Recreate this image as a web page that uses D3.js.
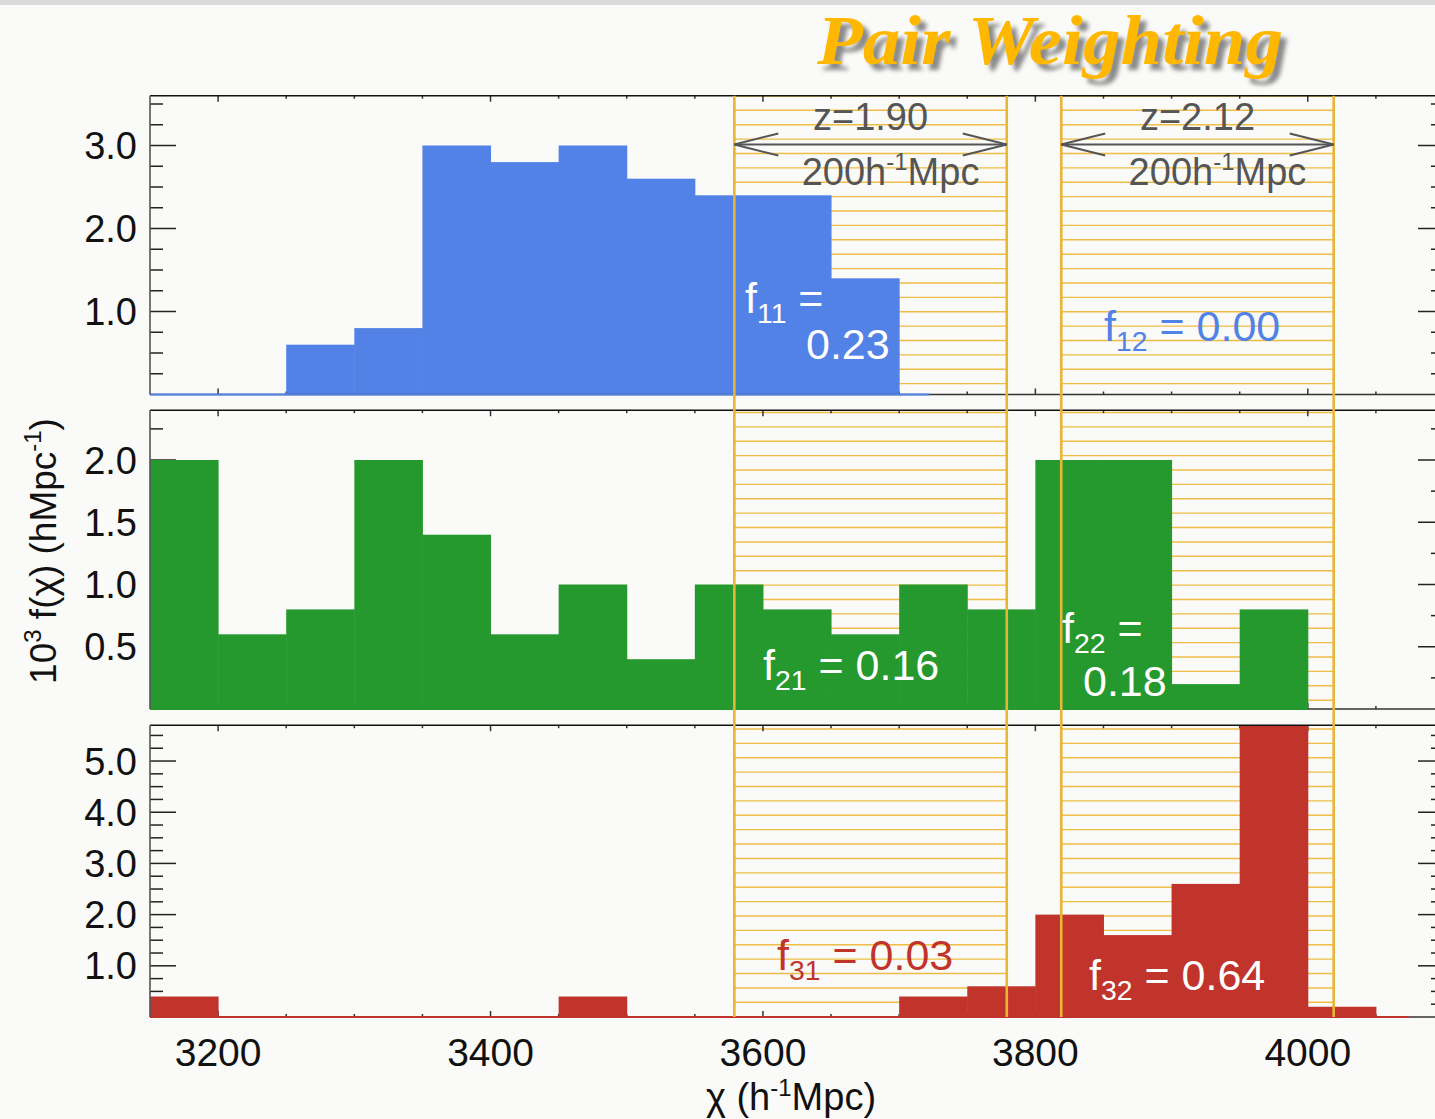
<!DOCTYPE html>
<html lang="en">
<head>
<meta charset="UTF-8">
<title>Pair Weighting</title>
<script src="https://d3js.org/d3.v7.min.js"></script>
<style>
  body { margin: 0; background: #fafaf8; }
  svg { display: block; }
</style>
</head>
<body>
<svg width="1435" height="1119" font-family="'Liberation Sans', Arial, sans-serif"></svg>
<script>
// ---- data ----
const binStart = 3150, binWidth = 50;
const blueVals  = [0, 0, 0.6, 0.8, 3.0, 2.8, 3.0, 2.6, 2.4, 2.4, 1.4];
const greenVals = [2.0, 0.6, 0.8, 2.0, 1.4, 0.6, 1.0, 0.4, 1.0, 0.8, 0.6, 1.0, 0.8, 2.0, 2.0, 0.2, 0.8];
const redVals   = [0.4, 0, 0, 0, 0, 0, 0.4, 0, 0, 0, 0, 0.4, 0.6, 2.0, 1.6, 2.6, 5.8, 0.2];
const windows   = [[3579, 3779], [3819, 4019]];
const windowZ   = ["z=1.90", "z=2.12"];
const xTickLabels = [3200, 3400, 3600, 3800, 4000];

const svg = d3.select("svg");
const W = 1435, H = 1119;

svg.append("rect").attr("width", W).attr("height", H).attr("fill", "#fafaf8");
svg.append("rect").attr("width", W).attr("height", 5).attr("fill", "#d9d9d9");

const x = d3.scaleLinear().domain([3150, 4100]).range([150, 1444]);

const panels = [
  { vals: blueVals,  color: "#5282e6", y: d3.scaleLinear().domain([0, 3.6]).range([394.5, 95.7]),
    major: [1, 2, 3], minorStep: 0.25, base: [3150, 3722] },
  { vals: greenVals, color: "#25992e", y: d3.scaleLinear().domain([0, 2.4]).range([709, 410.2]),
    major: [0.5, 1, 1.5, 2], minorStep: 0.25, base: [3150, 4000] },
  { vals: redVals,   color: "#c0342b", y: d3.scaleLinear().domain([0, 5.7]).range([1017, 725.2]),
    major: [1, 2, 3, 4, 5], minorStep: 0.25, base: [3150, 4074] }
];
const fmt = d3.format(".1f");

const hatchStep = 14.387, hatchRef = 1016.7;

panels.forEach((p, pi) => {
  const g = svg.append("g");
  const [bot, top] = p.y.range();
  const clipId = "clip" + pi;
  svg.append("clipPath").attr("id", clipId)
    .append("rect").attr("x", 150).attr("y", top).attr("width", 1294).attr("height", bot - top);

  // hatch lines inside the two windows
  const hy = [];
  for (let k = 0; hatchRef - k * hatchStep > top; k++) {
    const yy = hatchRef - k * hatchStep;
    if (yy <= bot + 0.5) hy.push(yy);
  }
  windows.forEach(w => {
    g.selectAll(null).data(hy).enter().append("line")
      .attr("x1", x(w[0])).attr("x2", x(w[1]))
      .attr("y1", d => d).attr("y2", d => d)
      .attr("stroke", "#efbd45").attr("stroke-width", 1.4);
  });

  // y ticks, left and right
  const minors = d3.range(p.minorStep, p.y.domain()[1] + 1e-6, p.minorStep);
  minors.forEach(v => {
    const isMajor = p.major.some(m => Math.abs(m - v) < 1e-6);
    const len = isMajor ? 26 : 13;
    g.append("line").attr("x1", 150).attr("x2", 150 + len)
      .attr("y1", p.y(v)).attr("y2", p.y(v)).attr("stroke", "#222").attr("stroke-width", 1.5);
    g.append("line").attr("x1", 1444 - len).attr("x2", 1444)
      .attr("y1", p.y(v)).attr("y2", p.y(v)).attr("stroke", "#222").attr("stroke-width", 1.5);
  });
  g.selectAll(null).data(p.major).enter().append("text")
    .attr("x", 137).attr("y", d => p.y(d)).attr("dy", "0.36em")
    .attr("text-anchor", "end").attr("font-size", 38).attr("fill", "#111")
    .text(d => fmt(d));

  // x ticks top and bottom
  d3.range(3200, 4100, 50).forEach(v => {
    const len = (v % 200 === 0) ? 6 : 3;
    g.append("line").attr("x1", x(v)).attr("x2", x(v)).attr("y1", bot).attr("y2", bot - len)
      .attr("stroke", "#333").attr("stroke-width", 1.5);
    g.append("line").attr("x1", x(v)).attr("x2", x(v)).attr("y1", top).attr("y2", top + len)
      .attr("stroke", "#333").attr("stroke-width", 1.5);
  });

  // histogram bars
  g.append("g").attr("clip-path", `url(#${clipId})`)
    .selectAll("rect").data(p.vals).enter().append("rect")
    .attr("x", (d, i) => x(binStart + i * binWidth))
    .attr("width", (d, i) => x(binStart + (i + 1) * binWidth) - x(binStart + i * binWidth) + 0.5)
    .attr("y", d => p.y(Math.min(d, p.y.domain()[1])))
    .attr("height", d => bot - p.y(Math.min(d, p.y.domain()[1])))
    .attr("fill", p.color);

  // frame
  g.append("line").attr("x1", 150).attr("x2", W).attr("y1", top).attr("y2", top)
    .attr("stroke", "#111").attr("stroke-width", 1.6);
  g.append("line").attr("x1", 150).attr("x2", W).attr("y1", bot).attr("y2", bot)
    .attr("stroke", "#333").attr("stroke-width", 1.6);
  g.append("line").attr("x1", x(p.base[0])).attr("x2", x(p.base[1])).attr("y1", bot).attr("y2", bot)
    .attr("stroke", p.color).attr("stroke-width", 2);
  g.append("line").attr("x1", 150).attr("x2", 150).attr("y1", top).attr("y2", bot)
    .attr("stroke", "#555").attr("stroke-width", 1.6);
});

// vertical window borders across all panels
windows.forEach(w => {
  w.forEach(v => {
    svg.append("line").attr("x1", x(v)).attr("x2", x(v)).attr("y1", 95.7).attr("y2", 1017)
      .attr("stroke", "#e8b535").attr("stroke-width", 2.6);
  });
});

// arrows and window labels
const grey = "#555";
windows.forEach((w, i) => {
  const xa = x(w[0]), xb = x(w[1]), ya = 144.5;
  const a = svg.append("g").attr("stroke", grey).attr("stroke-width", 2).attr("fill", "none");
  a.append("line").attr("x1", xa).attr("x2", xb).attr("y1", ya).attr("y2", ya);
  a.append("path").attr("d", `M${xa + 44},${ya - 11}L${xa},${ya}L${xa + 44},${ya + 11}`);
  a.append("path").attr("d", `M${xb - 44},${ya - 11}L${xb},${ya}L${xb - 44},${ya + 11}`);
  const cx = (xa + xb) / 2;
  svg.append("text").attr("x", cx).attr("y", 130).attr("text-anchor", "middle")
    .attr("font-size", 38).attr("fill", grey).text(windowZ[i]);
  const t = svg.append("text").attr("x", cx + 20).attr("y", 185).attr("text-anchor", "middle")
    .attr("font-size", 38).attr("fill", grey);
  t.append("tspan").text("200h");
  t.append("tspan").attr("font-size", 24).attr("dy", -15).text("-1");
  t.append("tspan").attr("dy", 15).text("Mpc");
});

// f labels
function fLabel(xp, yp, sub, rest, color, size) {
  const t = svg.append("text").attr("x", xp).attr("y", yp).attr("font-size", size).attr("fill", color);
  t.append("tspan").text("f");
  t.append("tspan").attr("font-size", size * 0.66).attr("dy", 10).text(sub);
  t.append("tspan").attr("dy", -10).text(rest);
  return t;
}
const fs = 43;
fLabel(745, 313, "11", " =", "#fff", fs);
svg.append("text").attr("x", 806).attr("y", 359).attr("font-size", fs).attr("fill", "#fff").text("0.23");
fLabel(1104, 341, "12", " = 0.00", "#5282e6", fs);
fLabel(763, 680, "21", " = 0.16", "#fff", fs);
fLabel(1062, 643, "22", " =", "#fff", fs);
svg.append("text").attr("x", 1083).attr("y", 696).attr("font-size", fs).attr("fill", "#fff").text("0.18");
fLabel(777, 970, "31", " = 0.03", "#c0342b", fs);
fLabel(1089, 990, "32", " = 0.64", "#fff", fs);

// x tick labels
svg.selectAll(".xl").data(xTickLabels).enter().append("text")
  .attr("x", d => x(d)).attr("y", 1066).attr("text-anchor", "middle")
  .attr("font-size", 39).attr("fill", "#111").text(d => d);

// x axis title
const xt = svg.append("text").attr("x", 791).attr("y", 1110).attr("text-anchor", "middle")
  .attr("font-size", 38).attr("fill", "#111");
xt.append("tspan").text("χ (h");
xt.append("tspan").attr("font-size", 24).attr("dy", -14).text("-1");
xt.append("tspan").attr("dy", 14).text("Mpc)");

// y axis title
const yt = svg.append("text").attr("transform", "translate(56,551) rotate(-90)")
  .attr("text-anchor", "middle").attr("font-size", 37).attr("fill", "#111");
yt.append("tspan").text("10");
yt.append("tspan").attr("font-size", 24).attr("dy", -15).text("3");
yt.append("tspan").attr("dy", 15).text(" f(χ) (hMpc");
yt.append("tspan").attr("font-size", 24).attr("dy", -15).text("-1");
yt.append("tspan").attr("dy", 15).text(")");

// title with soft shadow
const defs = svg.append("defs");
const f = defs.append("filter").attr("id", "blur").attr("x", "-10%").attr("y", "-20%")
  .attr("width", "120%").attr("height", "140%");
f.append("feGaussianBlur").attr("stdDeviation", 2.2);
const titleAttrs = sel => sel.attr("font-family", "'Liberation Serif', 'DejaVu Serif', serif")
  .attr("font-style", "italic").attr("font-weight", "bold").attr("font-size", 70)
  .attr("textLength", 466).attr("lengthAdjust", "spacingAndGlyphs").text("Pair Weighting");
svg.append("text").attr("x", 823).attr("y", 70).attr("fill", "#8a8a8a")
  .attr("filter", "url(#blur)").call(titleAttrs);
svg.append("text").attr("x", 817).attr("y", 64).attr("fill", "#ffb700").call(titleAttrs);
</script>
</body>
</html>
